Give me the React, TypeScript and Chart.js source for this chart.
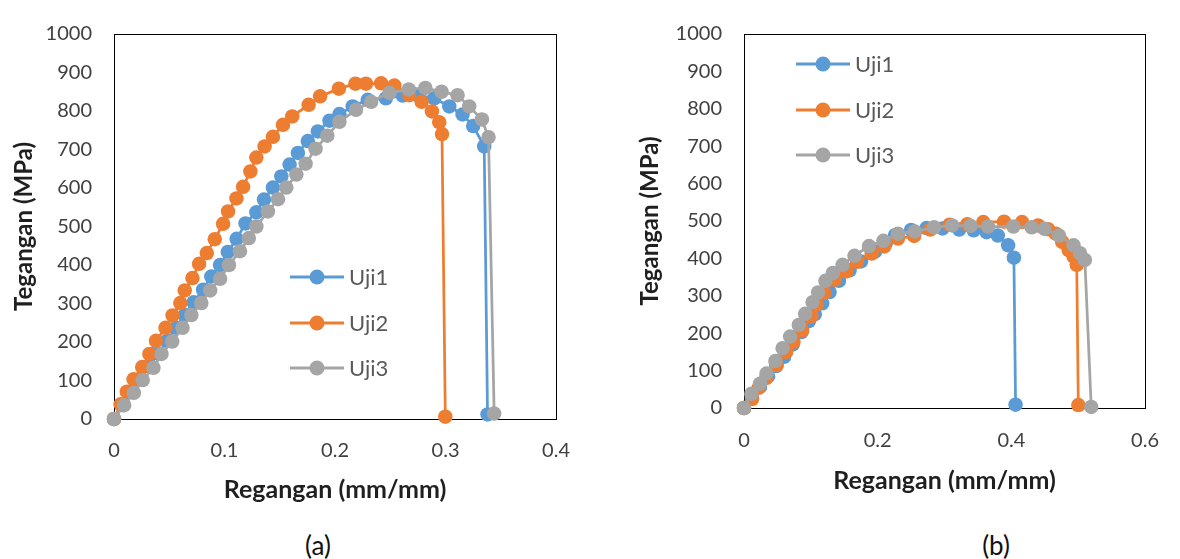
import React, { useEffect, useRef } from "react";
import { Chart, registerables } from "chart.js";

Chart.register(...registerables);

// ---------- data ----------
const seriesNames = ["Uji1", "Uji2", "Uji3"];
const seriesColors = ["#5B9BD5", "#ED7D31", "#A5A5A5"];

const yTicks = [0, 100, 200, 300, 400, 500, 600, 700, 800, 900, 1000];
const xTicksA = [0, 0.1, 0.2, 0.3, 0.4];
const xTicksB = [0, 0.2, 0.4, 0.6];

// chart (a)
const aUji1X = [0, 0.008, 0.016, 0.024, 0.032, 0.04, 0.048, 0.056, 0.064, 0.072, 0.0806, 0.088, 0.096, 0.103, 0.111, 0.119, 0.1288, 0.1357, 0.1438, 0.1514, 0.1589, 0.1664, 0.1754, 0.1845, 0.195, 0.204, 0.216, 0.2296, 0.246, 0.2612, 0.2745, 0.2898, 0.3034, 0.3154, 0.325, 0.335, 0.338];
const aUji1Y = [0, 36, 70, 103, 137, 170, 203, 237, 270, 303, 336, 370, 400, 434, 468, 508, 537, 570, 601, 630, 661, 691, 722, 747, 775, 792, 812, 829, 833, 840, 841, 833, 812, 791, 761, 708, 12];

const aUji2X = [0, 0.006, 0.0116, 0.0177, 0.0255, 0.032, 0.038, 0.0466, 0.053, 0.06, 0.064, 0.071, 0.077, 0.084, 0.0912, 0.0987, 0.1032, 0.1108, 0.1168, 0.1234, 0.1288, 0.1363, 0.1438, 0.1529, 0.1613, 0.1761, 0.1865, 0.2035, 0.2185, 0.228, 0.2417, 0.2537, 0.2673, 0.2784, 0.2877, 0.2943, 0.2968, 0.2998];
const aUji2Y = [0, 38, 71, 103, 135, 169, 203, 237, 269, 301, 334, 366, 403, 431, 467, 507, 539, 573, 603, 643, 679, 708, 733, 764, 786, 816, 838, 858, 871, 871, 872, 866, 841, 824, 799, 771, 740, 6];

const aUji3X = [0, 0.0092, 0.018, 0.026, 0.0357, 0.043, 0.0527, 0.062, 0.07, 0.079, 0.087, 0.096, 0.104, 0.114, 0.122, 0.1288, 0.1393, 0.1484, 0.1559, 0.165, 0.1734, 0.1824, 0.193, 0.204, 0.219, 0.2327, 0.2492, 0.2667, 0.2817, 0.2964, 0.3109, 0.3214, 0.3329, 0.3389, 0.344];
const aUji3Y = [0, 36, 68, 101, 133, 169, 201, 237, 270, 301, 334, 364, 400, 436, 470, 500, 539, 571, 601, 635, 663, 702, 736, 772, 803, 824, 847, 856, 860, 850, 841, 812, 778, 732, 14];

// chart (b)
const bUji1X = [0, 0.012, 0.024, 0.036, 0.048, 0.06, 0.073, 0.086, 0.097, 0.106, 0.117, 0.128, 0.142, 0.158, 0.175, 0.196, 0.212, 0.226, 0.25, 0.273, 0.297, 0.322, 0.3436, 0.363, 0.3798, 0.3952, 0.4038, 0.4063];
const bUji1Y = [0, 27, 57, 85, 112, 137, 170, 203, 232, 251, 280, 310, 340, 368, 392, 418, 440, 462, 476, 481, 480, 477, 475, 470, 461, 435, 402, 9];

const bUji2X = [0, 0.012, 0.022, 0.033, 0.049, 0.063, 0.074, 0.087, 0.101, 0.109, 0.12, 0.136, 0.153, 0.169, 0.191, 0.21, 0.2303, 0.2545, 0.2786, 0.3075, 0.334, 0.358, 0.389, 0.416, 0.44, 0.455, 0.4665, 0.476, 0.4858, 0.493, 0.4978, 0.5002];
const bUji2Y = [0, 24, 54, 80, 115, 150, 177, 207, 246, 277, 308, 343, 365, 391, 413, 432, 453, 460, 477, 490, 491, 497, 498, 497, 488, 478, 466, 444, 422, 405, 383, 8];

const bUji3X = [0, 0.011, 0.024, 0.0337, 0.047, 0.0578, 0.069, 0.082, 0.0915, 0.1026, 0.111, 0.1219, 0.133, 0.1475, 0.1653, 0.187, 0.2086, 0.2303, 0.2554, 0.2844, 0.3113, 0.3388, 0.365, 0.403, 0.4304, 0.4496, 0.4713, 0.493, 0.5027, 0.51, 0.5195];
const bUji3Y = [0, 38, 65, 92, 126, 160, 191, 222, 252, 283, 309, 340, 361, 383, 407, 433, 447, 466, 472, 483, 488, 487, 485, 485, 483, 479, 461, 435, 414, 396, 3];

// ---------- helpers ----------
const zip = (xs: number[], ys: number[]) => xs.map((x, i) => ({ x, y: ys[i] }));

const FONT = "Lato, 'Open Sans', sans-serif";

const framePlugin = {
  id: "frameLegend",
  beforeDatasetsDraw(chart: any) {
    const { ctx, chartArea } = chart;
    ctx.save();
    ctx.strokeStyle = "#000";
    ctx.lineWidth = 1;
    ctx.strokeRect(
      Math.round(chartArea.left) + 0.5,
      Math.round(chartArea.top) + 0.5,
      Math.round(chartArea.right - chartArea.left),
      Math.round(chartArea.bottom - chartArea.top)
    );
    ctx.restore();
  },
  afterDatasetsDraw(chart: any, _args: any, opts: any) {
    if (!opts || !opts.rows) return;
    const { ctx } = chart;
    ctx.save();
    chart.data.datasets.forEach((ds: any, i: number) => {
      const y = opts.rows[i];
      ctx.strokeStyle = ds.borderColor;
      ctx.lineWidth = 3;
      ctx.beginPath();
      ctx.moveTo(opts.x0, y);
      ctx.lineTo(opts.x1, y);
      ctx.stroke();
      ctx.fillStyle = ds.pointBackgroundColor;
      ctx.beginPath();
      ctx.arc((opts.x0 + opts.x1) / 2, y, 7.5, 0, Math.PI * 2);
      ctx.fill();
      ctx.fillStyle = "#595959";
      ctx.font = `22px ${FONT}`;
      ctx.textBaseline = "middle";
      ctx.textAlign = "left";
      ctx.fillText(ds.label, opts.x1 + 5, y + 1);
    });
    ctx.restore();
  },
};

type Cfg = {
  series: { x: number[]; y: number[] }[];
  xMax: number;
  xTicks: number[];
  yAxisW: number;
  xAxisH: number;
  padTop: number;
  padRight: number;
  xTickPad: number;
  xTitlePad: number;
  yTitlePad: number;
  legend: { x0: number; x1: number; rows: number[] };
};

function makeChart(canvas: HTMLCanvasElement, c: Cfg) {
  const datasets = c.series.map((s, i) => ({
    label: seriesNames[i],
    data: zip(s.x, s.y),
    showLine: true,
    borderColor: seriesColors[i],
    backgroundColor: seriesColors[i],
    pointBackgroundColor: seriesColors[i],
    pointBorderWidth: 0,
    pointRadius: 7.25,
    pointHoverRadius: 7.25,
    borderWidth: 2.75,
    tension: 0,
    clip: false as any,
    order: 2 - i,
  }));
  return new Chart(canvas, {
    type: "scatter",
    data: { datasets },
    plugins: [framePlugin],
    options: {
      animation: false,
      responsive: false,
      devicePixelRatio: 1,
      layout: { padding: { top: c.padTop, right: c.padRight, left: 0, bottom: 0 } },
      plugins: {
        legend: { display: false },
        tooltip: { enabled: false },
        frameLegend: c.legend,
      } as any,
      scales: {
        x: {
          type: "linear",
          min: 0,
          max: c.xMax,
          afterBuildTicks: (s: any) => {
            s.ticks = c.xTicks.map((v) => ({ value: v }));
          },
          afterFit: (s: any) => {
            s.height = c.xAxisH;
          },
          ticks: {
            font: { family: FONT, size: 20 },
            color: "#404040",
            padding: c.xTickPad,
            maxRotation: 0,
            autoSkip: false,
            callback: (v: any) => String(v),
          },
          grid: { display: false, drawTicks: false },
          border: { display: false },
          title: {
            display: true,
            text: "Regangan (mm/mm)",
            font: { family: FONT, size: 25, weight: "bold" },
            color: "#1f1f1f",
            padding: { top: 0, bottom: c.xTitlePad },
          },
        },
        y: {
          type: "linear",
          min: 0,
          max: 1000,
          afterBuildTicks: (s: any) => {
            s.ticks = yTicks.map((v) => ({ value: v }));
          },
          afterFit: (s: any) => {
            s.width = c.yAxisW;
          },
          ticks: {
            font: { family: FONT, size: 20 },
            color: "#404040",
            padding: 22,
            autoSkip: false,
            callback: (v: any) => String(v),
          },
          grid: { display: false, drawTicks: false },
          border: { display: false },
          title: {
            display: true,
            text: "Tegangan (MPa)",
            font: { family: FONT, size: 24, weight: "bold" },
            color: "#1f1f1f",
            padding: { top: c.yTitlePad, bottom: 0 },
          },
        },
      },
    } as any,
  });
}

export default function App() {
  const refA = useRef<HTMLCanvasElement>(null);
  const refB = useRef<HTMLCanvasElement>(null);

  useEffect(() => {
    const chA = makeChart(refA.current!, {
      series: [
        { x: aUji1X, y: aUji1Y },
        { x: aUji2X, y: aUji2Y },
        { x: aUji3X, y: aUji3Y },
      ],
      xMax: 0.4,
      xTicks: xTicksA,
      yAxisW: 114,
      xAxisH: 101,
      padTop: 24,
      padRight: 33,
      xTickPad: 20,
      xTitlePad: 15,
      yTitlePad: 10,
      legend: { x0: 290, x1: 344, rows: [277, 323, 368] },
    });
    const chB = makeChart(refB.current!, {
      series: [
        { x: bUji1X, y: bUji1Y },
        { x: bUji2X, y: bUji2Y },
        { x: bUji3X, y: bUji3Y },
      ],
      xMax: 0.6,
      xTicks: xTicksB,
      yAxisW: 154,
      xAxisH: 112,
      padTop: 26,
      padRight: 21,
      xTickPad: 21,
      xTitlePad: 24,
      yTitlePad: 46,
      legend: { x0: 206, x1: 260, rows: [64, 110, 155] },
    });
    return () => {
      chA.destroy();
      chB.destroy();
    };
  }, []);

  const cap: React.CSSProperties = {
    position: "absolute",
    top: 530,
    width: 80,
    textAlign: "center",
    font: `26px ${FONT}`,
    lineHeight: "30px",
    color: "#111",
  };

  return (
    <div style={{ position: "absolute", left: 0, top: 0, width: 1180, height: 559, background: "#fff", overflow: "hidden" }}>
      <canvas ref={refA} width={590} height={520} style={{ position: "absolute", left: 0, top: 0, width: 590, height: 520 }} />
      <canvas ref={refB} width={590} height={520} style={{ position: "absolute", left: 590, top: 0, width: 590, height: 520 }} />
      <div style={{ ...cap, left: 318 - 40 }}>(a)</div>
      <div style={{ ...cap, left: 996 - 40 }}>(b)</div>
    </div>
  );
}
